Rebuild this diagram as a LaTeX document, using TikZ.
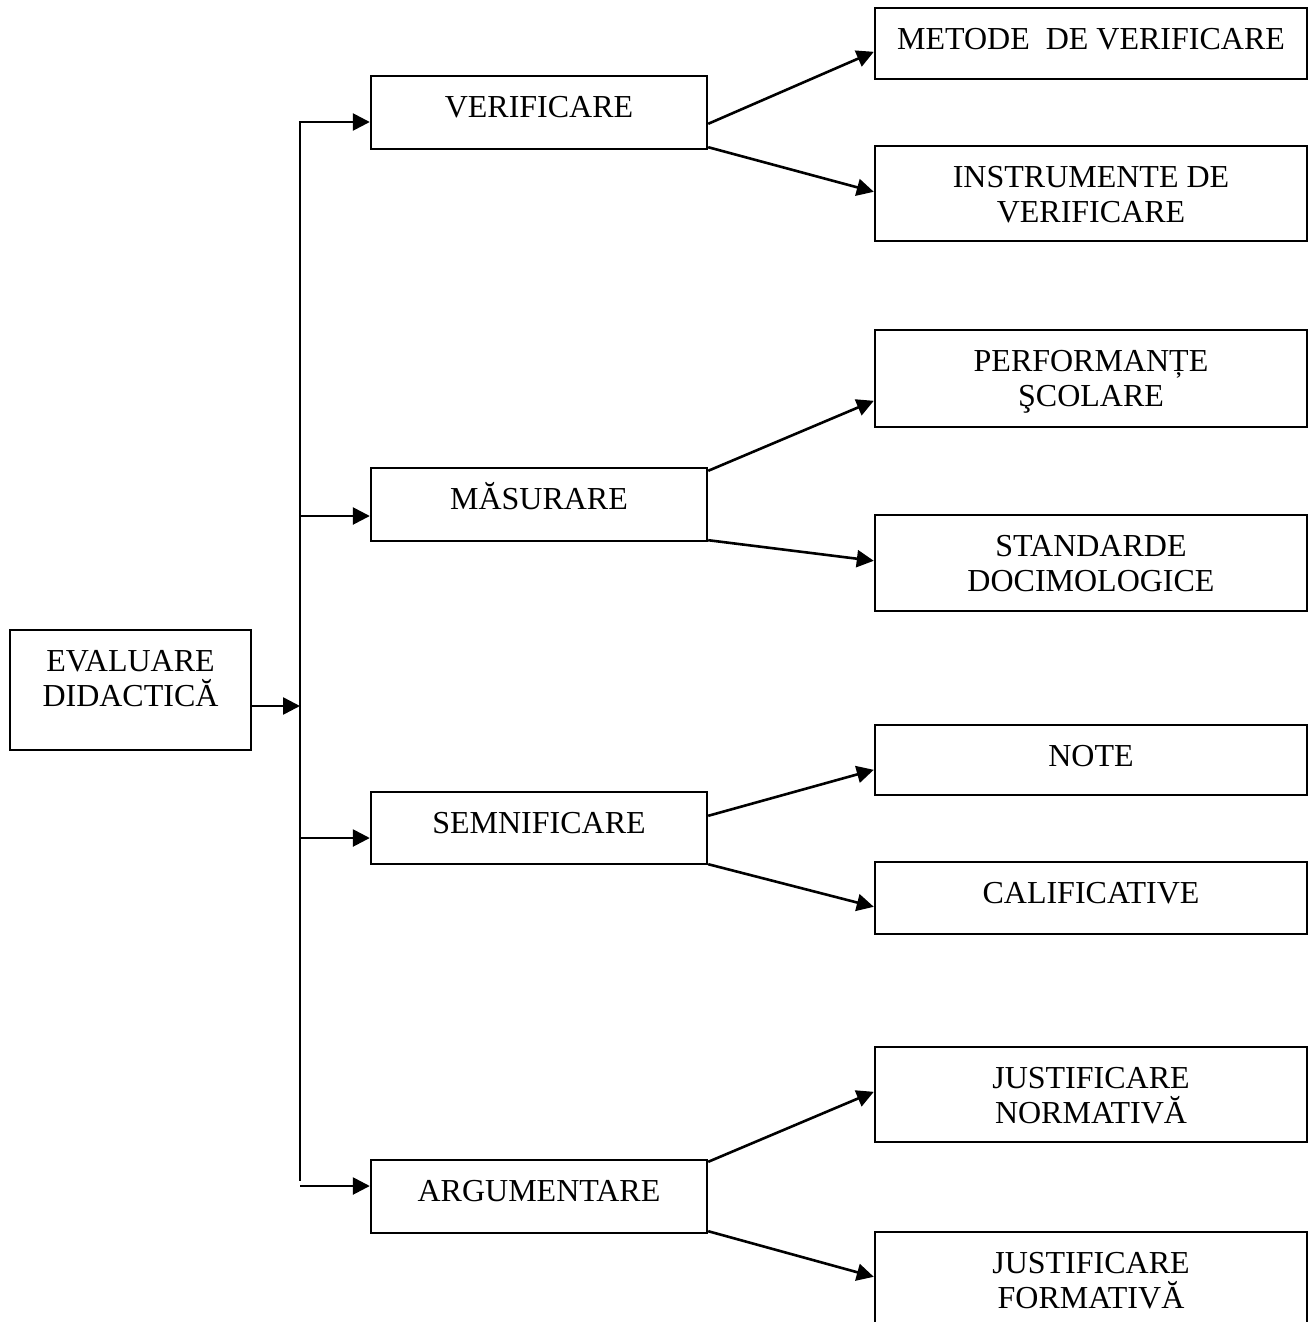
\documentclass[tikz,border=0pt]{standalone}
\usepackage{fontspec}
\setmainfont{Liberation Serif}
\usetikzlibrary{arrows.meta,calc}
\newcommand\rw[1]{\smash{#1}}
\newcommand\txtlines[1]{\begin{tabular}[t]{@{}c@{}}#1\end{tabular}}
\newcommand\mkbox[6]{%
  \node[boxst, minimum width={(#4-#2)*1pt}, minimum height={(#5-#3)*1pt}] (#1) at ({(#2+#4)/2},{(#3+#5)/2}) {};
  \node[lbl] (#1-t) at ({(#2+#4)/2},{#3+41}) {\txtlines{#6}};}
\begin{document}
\begin{tikzpicture}[x=1pt,y=-1pt,
  boxst/.style={draw, line width=2.4pt, inner sep=0pt, fill=none},
  lbl/.style={anchor=base, inner sep=0pt, font=\fontsize{32}{35}\selectfont},
  arr/.style={line width=2.6pt, -{Triangle[length=17pt,width=17pt]}},
  trunk/.style={line width=2.2pt}]
\useasboundingbox (0,0) rectangle (1311,1322);
\clip (0,0) rectangle (1311,1322);
\fill[white] (0,0) rectangle (1311,1322);
% left and middle boxes
\mkbox{ev}{10}{630}{251}{750}{\rw{EVALUARE}\\\rw{DIDACTICĂ}}
\mkbox{ver}{371}{76}{707}{149}{\rw{VERIFICARE}}
\mkbox{mas}{371}{468}{707}{541}{\rw{MĂSURARE}}
\mkbox{sem}{371}{792}{707}{864}{\rw{SEMNIFICARE}}
\mkbox{arg}{371}{1160}{707}{1233}{\rw{ARGUMENTARE}}
% right boxes
\mkbox{met}{875}{8}{1307}{79}{\rw{METODE\ \ DE VERIFICARE}}
\mkbox{ins}{875}{146}{1307}{241}{\rw{INSTRUMENTE DE}\\\rw{VERIFICARE}}
\mkbox{per}{875}{330}{1307}{427}{\rw{PERFORMANȚE}\\\rw{ŞCOLARE}}
\mkbox{std}{875}{515}{1307}{611}{\rw{STANDARDE}\\\rw{DOCIMOLOGICE}}
\mkbox{not}{875}{725}{1307}{795}{\rw{NOTE}}
\mkbox{cal}{875}{862}{1307}{934}{\rw{CALIFICATIVE}}
\mkbox{nor}{875}{1047}{1307}{1142}{\rw{JUSTIFICARE}\\\rw{NORMATIVĂ}}
\mkbox{for}{875}{1232}{1307}{1340}{\rw{JUSTIFICARE}\\\rw{FORMATIVĂ}}
% trunk
\coordinate (t0) at (300,706);
\coordinate (t1) at (300,122);
\coordinate (t2) at (300,516);
\coordinate (t3) at (300,838);
\coordinate (t4) at (300,1186);
\coordinate (tb) at (300,1181);
\draw[trunk] (t1) -- (tb);
\draw[trunk] ($(t1)+(-1.1,0)$) -- (t1);
\draw[arr] (ev.east |- t0) -- (t0);
\draw[arr] (t1) -- (ver.west |- t1);
\draw[arr] (t2) -- (mas.west |- t2);
\draw[arr] (t3) -- (sem.west |- t3);
\draw[arr] (t4) -- (arg.west |- t4);
% diagonal arrows
\draw[arr] ($(ver.north east)+(0,49)$) -- ($(met.north west)+(0,45)$);
\draw[arr] ($(ver.south east)+(0,-3)$) -- ($(ins.north west)+(0,47)$);
\draw[arr] ($(mas.north east)+(0,4)$) -- ($(per.north west)+(0,72)$);
\draw[arr] ($(mas.south east)+(0,-2)$) -- ($(std.north west)+(0,47)$);
\draw[arr] ($(sem.north east)+(0,25)$) -- ($(not.north west)+(0,46)$);
\draw[arr] ($(sem.south east)+(0,-1)$) -- ($(cal.north west)+(0,46)$);
\draw[arr] ($(arg.north east)+(0,3)$) -- ($(nor.north west)+(0,46)$);
\draw[arr] ($(arg.south east)+(0,-3)$) -- ($(for.north west)+(0,46)$);
\end{tikzpicture}
\end{document}
